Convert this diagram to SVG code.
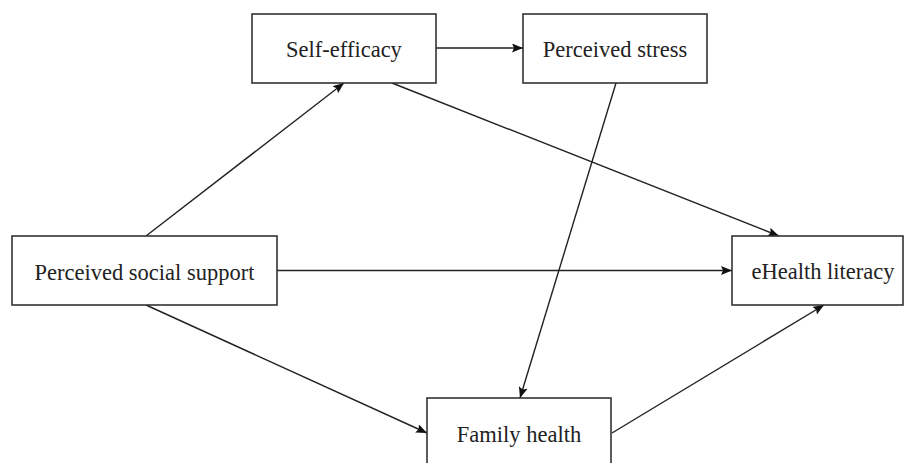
<svg xmlns="http://www.w3.org/2000/svg" width="905" height="463" viewBox="0 0 905 463">
<style>
.box{fill:#fff;stroke:#333;stroke-width:1.6}
.lbl{font-size:22.5px;fill:#222;text-anchor:middle}
.edge{stroke:#222;stroke-width:1.4;fill:none;marker-end:url(#arr)}
</style>
<defs>
<marker id="arr" markerUnits="userSpaceOnUse" markerWidth="12" markerHeight="10" refX="11" refY="4.5" orient="auto">
<path d="M0,0 L11,4.5 L0,9 L2,4.5 Z" fill="#111"/>
</marker>
</defs>
<rect width="905" height="463" fill="#fff"/>
<g id="connectors">
<line class="edge" x1="436" y1="48" x2="523" y2="48"/>
<line class="edge" x1="146" y1="236" x2="344" y2="83"/>
<line class="edge" x1="392" y1="83" x2="779" y2="236"/>
<line class="edge" x1="616" y1="83" x2="520" y2="398"/>
<line class="edge" x1="277" y1="270.5" x2="732" y2="270.5"/>
<line class="edge" x1="146" y1="305" x2="427" y2="433"/>
<line class="edge" x1="612" y1="433" x2="824" y2="305"/>
</g>
<g id="self-efficacy">
<rect class="box" x="252" y="14" width="184" height="69"/>
<text class="lbl" font-family="Liberation Serif, serif" x="344" y="57">Self-efficacy</text>
</g>
<g id="perceived-stress">
<rect class="box" x="523" y="14" width="184" height="69"/>
<text class="lbl" font-family="Liberation Serif, serif" x="615" y="57">Perceived stress</text>
</g>
<g id="perceived-social-support">
<rect class="box" x="12" y="236" width="265" height="69"/>
<text class="lbl" font-family="Liberation Serif, serif" x="144.5" y="280">Perceived social support</text>
</g>
<g id="ehealth-literacy">
<rect class="box" x="732" y="236" width="171" height="69"/>
<text class="lbl" font-family="Liberation Serif, serif" x="823" y="279">eHealth literacy</text>
</g>
<g id="family-health">
<rect class="box" x="427" y="398" width="184" height="80"/>
<text class="lbl" font-family="Liberation Serif, serif" x="519" y="442">Family health</text>
</g>
</svg>
